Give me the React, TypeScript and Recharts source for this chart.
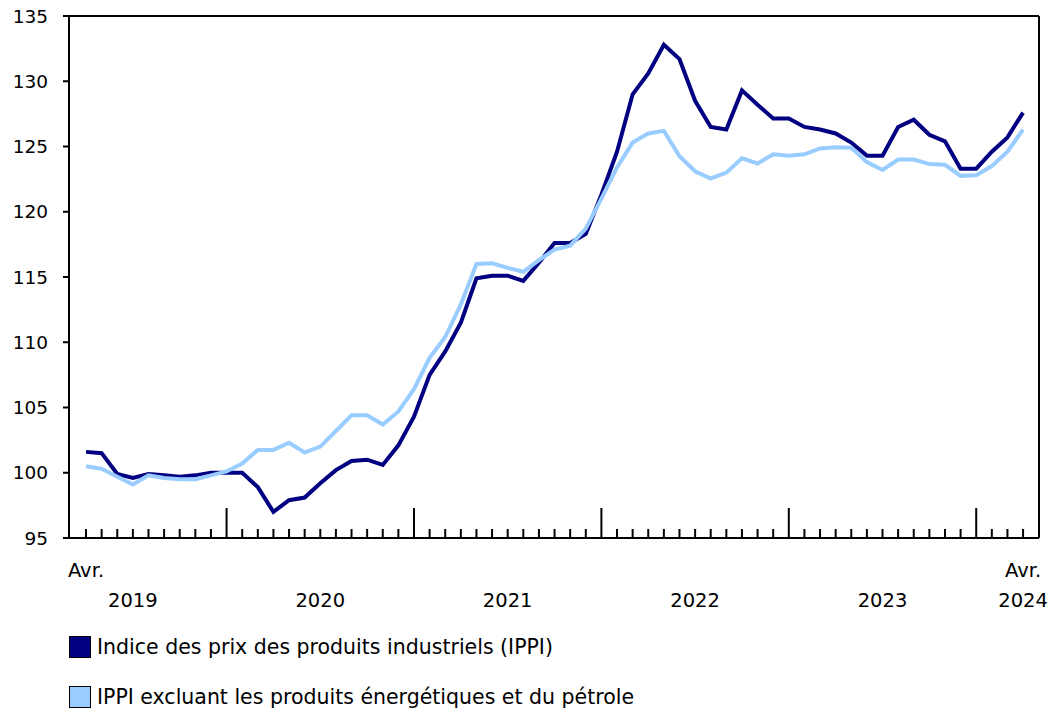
import React from 'react';
import { LineChart, Line, XAxis, YAxis, ReferenceLine } from 'recharts';

// Monthly values, April 2019 .. April 2024
const ippi = [
  101.6, 101.5, 99.9, 99.6, 99.9, 99.8, 99.7, 99.8, 100.0, 100.0,
  100.0, 98.9, 97.0, 97.9, 98.1, 99.2, 100.2, 100.9, 101.0, 100.6,
  102.1, 104.3, 107.5, 109.3, 111.5, 114.9, 115.1, 115.1, 114.7, 116.1,
  117.6, 117.6, 118.3, 121.3, 124.6, 129.0, 130.6, 132.8, 131.7, 128.5,
  126.5, 126.3, 129.3, 128.2, 127.15, 127.15, 126.5, 126.3, 126.0, 125.3,
  124.3, 124.3, 126.5, 127.05, 125.9, 125.4, 123.3, 123.3, 124.6, 125.7, 127.6,
];
const ippiExEnergy = [
  100.5, 100.3, 99.7, 99.1, 99.8, 99.6, 99.5, 99.5, 99.8, 100.1,
  100.7, 101.75, 101.75, 102.3, 101.55, 102.0, 103.2, 104.4, 104.4, 103.7,
  104.7, 106.4, 108.8, 110.4, 112.9, 116.0, 116.05, 115.7, 115.4, 116.3,
  117.1, 117.4, 118.7, 121.0, 123.4, 125.3, 126.0, 126.2, 124.25, 123.1,
  122.55, 123.0, 124.1, 123.7, 124.4, 124.3, 124.4, 124.85, 124.95, 124.9,
  123.8, 123.2, 124.0, 124.0, 123.65, 123.6, 122.75, 122.8, 123.5, 124.6, 126.3,
];

const seriesNames = [
  'Indice des prix des produits industriels (IPPI)',
  'IPPI excluant les produits énergétiques et du pétrole',
];
const seriesColors = ['#000080', '#99ccff'];

const yTicks = [95, 100, 105, 110, 115, 120, 125, 130, 135];
// month index of each January (major ticks)
const januaryIdx = [9, 21, 33, 45, 57];
const yearLabels = ['2019', '2020', '2021', '2022', '2023', '2024'];
const yearLabelIdx = [3, 15, 27, 39, 51, 60];
const monthLabel = 'Avr.';
const monthLabelIdx = [0, 60];

const data = ippi.map((v, i) => ({ i, a: v, b: ippiExEnergy[i] }));
const xTicks = data.map((d) => d.i);

const FONT = '"DejaVu Sans", Verdana, sans-serif';

function XTick(props: any) {
  const { x, y, payload } = props;
  const i = payload.value;
  const major = januaryIdx.includes(i);
  const yl = yearLabelIdx.indexOf(i);
  const ml = monthLabelIdx.includes(i);
  return (
    <g>
      <line x1={x} x2={x} y1={y} y2={y - (major ? 30 : 9)} stroke="#000" strokeWidth={2} />
      {ml && (
        <text x={x} y={y + 39} textAnchor="middle" fontSize={19.5} fontFamily={FONT} fill="#000">
          {monthLabel}
        </text>
      )}
      {yl >= 0 && (
        <text x={x} y={y + 69} textAnchor="middle" fontSize={19.5} fontFamily={FONT} fill="#000">
          {yearLabels[yl]}
        </text>
      )}
    </g>
  );
}

export default function App() {
  return (
    <div style={{ position: 'absolute', left: 0, top: 0, width: 1050, height: 709, background: '#fff', fontFamily: FONT }}>
      <LineChart width={1050} height={709} data={data} margin={{ top: 16, right: 11, left: 0, bottom: 141 }}>
        <XAxis
          dataKey="i"
          type="number"
          domain={[-1.09, 61.02]}
          allowDataOverflow
          ticks={xTicks}
          interval={0}
          tick={<XTick />}
          tickLine={false}
          tickSize={0}
          tickMargin={0}
          height={30}
          axisLine={{ stroke: '#000', strokeWidth: 2 }}
        />
        <YAxis
          domain={[95, 135]}
          ticks={yTicks}
          interval={0}
          width={69}
          tickSize={6}
          tickMargin={15}
          tickLine={{ stroke: '#000', strokeWidth: 2 }}
          axisLine={{ stroke: '#000', strokeWidth: 2 }}
          tick={{ fontSize: 18.5, fontFamily: FONT, fill: '#000' }}
        />
        <ReferenceLine y={135} stroke="#000" strokeWidth={2} ifOverflow="visible" />
        <ReferenceLine x={61.02} stroke="#000" strokeWidth={2} ifOverflow="visible" />
        <Line dataKey="a" name={seriesNames[0]} stroke={seriesColors[0]} strokeWidth={4} dot={false} isAnimationActive={false} strokeLinejoin="miter" />
        <Line dataKey="b" name={seriesNames[1]} stroke={seriesColors[1]} strokeWidth={4} dot={false} isAnimationActive={false} strokeLinejoin="miter" />
      </LineChart>
      {seriesNames.map((n, k) => (
        <div key={n} style={{ position: 'absolute', left: 69, top: 636 + k * 50, display: 'flex', alignItems: 'center' }}>
          <div style={{ width: 20, height: 20, background: seriesColors[k], border: '1px solid #000' }} />
          <span style={{ marginLeft: 6, fontSize: 20.5, color: '#000', whiteSpace: 'nowrap', lineHeight: '22px' }}>{n}</span>
        </div>
      ))}
    </div>
  );
}
